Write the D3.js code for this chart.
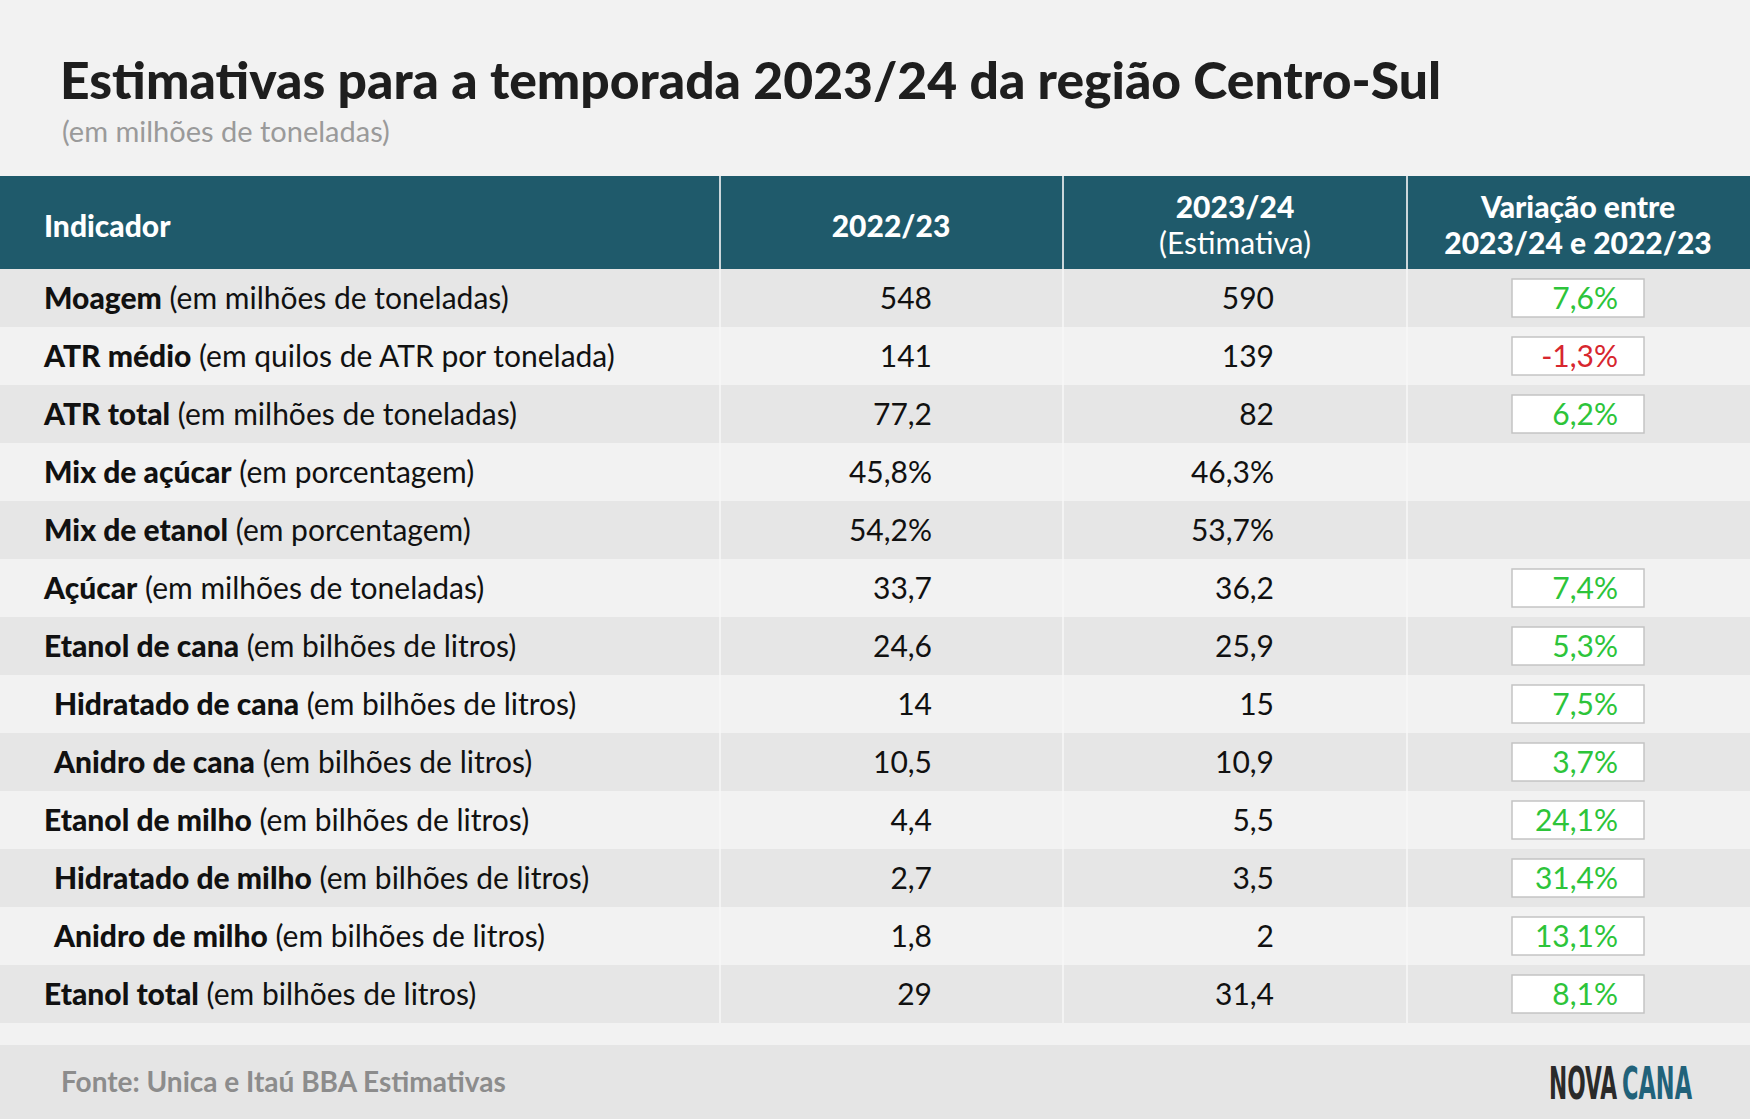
<!DOCTYPE html>
<html><head><meta charset="utf-8">
<script src="https://cdn.jsdelivr.net/npm/d3@7"></script>
<style>body{margin:0;background:#f2f2f2}svg{display:block;font-family:Lato,sans-serif}</style>
</head><body><div id="chart"></div>
<script>
const boldLabels = ["Moagem","ATR médio","ATR total","Mix de açúcar","Mix de etanol","Açúcar","Etanol de cana","Hidratado de cana","Anidro de cana","Etanol de milho","Hidratado de milho","Anidro de milho","Etanol total"];
const units = ["(em milhões de toneladas)","(em quilos de ATR por tonelada)","(em milhões de toneladas)","(em porcentagem)","(em porcentagem)","(em milhões de toneladas)","(em bilhões de litros)","(em bilhões de litros)","(em bilhões de litros)","(em bilhões de litros)","(em bilhões de litros)","(em bilhões de litros)","(em bilhões de litros)"];
const indented = [false,false,false,false,false,false,false,true,true,false,true,true,false];
const v2022 = ["548","141","77,2","45,8%","54,2%","33,7","24,6","14","10,5","4,4","2,7","1,8","29"];
const v2023 = ["590","139","82","46,3%","53,7%","36,2","25,9","15","10,9","5,5","3,5","2","31,4"];
const variation = [7.6,-1.3,6.2,null,null,7.4,5.3,7.5,3.7,24.1,31.4,13.1,8.1];

const W = 1750, H = 1119;
const svg = d3.select("#chart").append("svg").attr("width", W).attr("height", H);
svg.append("rect").attr("width", W).attr("height", H).attr("fill", "#f2f2f2");

svg.append("text").attr("x", 60).attr("y", 99).attr("font-size", 51.6).attr("font-weight", 900)
  .attr("fill", "#1e1e1e").text("Estimativas para a temporada 2023/24 da região Centro-Sul");
svg.append("text").attr("x", 62).attr("y", 142).attr("font-size", 29).attr("fill", "#9a9a9a")
  .text("(em milhões de toneladas)");

// header
const headTop = 176, headBot = 269;
svg.append("rect").attr("x", 0).attr("y", headTop).attr("width", W).attr("height", headBot - headTop).attr("fill", "#1f5a6b");

const y = d3.scaleBand().domain(d3.range(boldLabels.length)).range([headBot, 1023]);
const rows = svg.append("g").selectAll("g").data(boldLabels).join("g")
  .attr("transform", (d, i) => `translate(0,${y(i)})`);
rows.append("rect").attr("width", W).attr("height", y.bandwidth())
  .attr("fill", (d, i) => i % 2 === 0 ? "#e6e6e6" : "#f2f2f2");

// column dividers
[720, 1063, 1407].forEach(x => {
  svg.append("line").attr("x1", x).attr("x2", x).attr("y1", headTop).attr("y2", 1023)
    .attr("stroke", "#f7f7f7").attr("stroke-width", 2).attr("opacity", 0.8);
});

const ht = svg.append("g").attr("fill", "#fff").attr("font-size", 30).attr("font-weight", 900);
ht.append("text").attr("x", 44).attr("y", 237).text("Indicador");
ht.append("text").attr("x", 891).attr("y", 237).attr("text-anchor", "middle").text("2022/23");
ht.append("text").attr("x", 1235).attr("y", 218).attr("text-anchor", "middle").text("2023/24");
ht.append("text").attr("x", 1235).attr("y", 254).attr("text-anchor", "middle").attr("font-weight", 400).text("(Estimativa)");
ht.append("text").attr("x", 1578).attr("y", 218).attr("text-anchor", "middle").text("Variação entre");
ht.append("text").attr("x", 1578).attr("y", 254).attr("text-anchor", "middle").text("2023/24 e 2022/23");

const mid = y.bandwidth() / 2 + 11;
const lbl = rows.append("text").attr("x", (d, i) => indented[i] ? 54 : 44).attr("y", mid)
  .attr("font-size", 30).attr("fill", "#111");
lbl.append("tspan").attr("font-weight", 900).text(d => d);
lbl.append("tspan").text((d, i) => " " + units[i]);

rows.append("text").attr("x", 932).attr("y", mid).attr("text-anchor", "end").attr("font-size", 30)
  .attr("fill", "#111").text((d, i) => v2022[i]);
rows.append("text").attr("x", 1274).attr("y", mid).attr("text-anchor", "end").attr("font-size", 30)
  .attr("fill", "#111").text((d, i) => v2023[i]);

const fmt = v => d3.format(".1f")(v).replace(".", ",").replace("−", "-") + "%";
const vr = rows.filter((d, i) => variation[i] !== null);
vr.append("rect").attr("x", 1512).attr("y", y.bandwidth() / 2 - 19).attr("width", 132).attr("height", 38)
  .attr("fill", "#fff").attr("stroke", "#c4c4c4").attr("stroke-width", 1.5);
vr.append("text").attr("x", 1618).attr("y", mid).attr("text-anchor", "end").attr("font-size", 30)
  .attr("fill", d => variation[boldLabels.indexOf(d)] < 0 ? "#d7262e" : "#2dc43a")
  .text(d => fmt(variation[boldLabels.indexOf(d)]));

// footer
svg.append("rect").attr("x", 0).attr("y", 1045).attr("width", W).attr("height", H - 1045).attr("fill", "#e5e5e5");
svg.append("text").attr("x", 61).attr("y", 1092).attr("font-size", 28).attr("font-weight", 700)
  .attr("fill", "#8c8c8c").text("Fonte: Unica e Itaú BBA Estimativas");
const logoFont = "'Liberation Sans Narrow','DejaVu Sans Condensed',sans-serif";
svg.append("text").attr("x", 1549).attr("y", 1099).attr("font-size", 44).attr("font-weight", 700)
  .attr("font-family", logoFont).attr("fill", "#2a2a2a")
  .attr("textLength", 68).attr("lengthAdjust", "spacingAndGlyphs").text("NOVA");
svg.append("text").attr("x", 1622).attr("y", 1099).attr("font-size", 44).attr("font-weight", 700)
  .attr("font-family", logoFont).attr("fill", "#21627a")
  .attr("textLength", 70).attr("lengthAdjust", "spacingAndGlyphs").text("CANA");
</script></body></html>
